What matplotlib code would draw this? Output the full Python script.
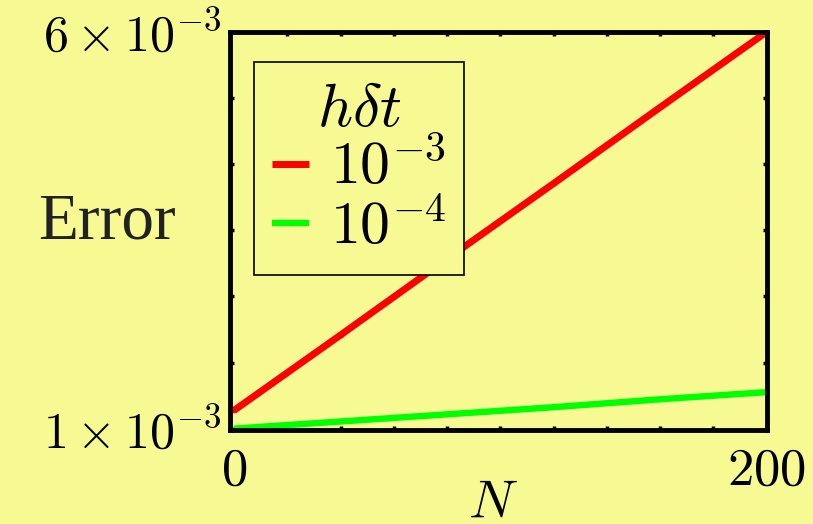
import matplotlib
matplotlib.use("Agg")
import matplotlib.pyplot as plt

# error vs number of steps for two step sizes
N = [0, 40, 80, 120, 160, 200]
err_1e3 = [1.23e-3, 2.18e-3, 3.14e-3, 4.09e-3, 5.05e-3, 6.00e-3]
err_1e4 = [1.00e-3, 1.09e-3, 1.18e-3, 1.27e-3, 1.37e-3, 1.46e-3]
labels = [r"$10^{-3}$", r"$10^{-4}$"]

bg = "#f7fa93"
plt.rcParams["mathtext.fontset"] = "cm"

fig = plt.figure(figsize=(8.13, 5.24), dpi=100, facecolor=bg)
ax = fig.add_axes([0.283, 0.179, 0.66, 0.76], facecolor=bg)

ax.plot(N, err_1e3, color="#ff0000", lw=5, marker="o", ms=3, label=labels[0], solid_capstyle="butt")
ax.plot(N, err_1e4, color="#00ff00", lw=4.6, marker="o", ms=3, label=labels[1], solid_capstyle="butt")

ax.set_xlim(-1.5, 200)
ax.set_ylim(0.98e-3, 6.0e-3)

# only the end values get labels
ax.set_xticks([0, 200])
ax.set_xticklabels([r"$0$", r"$200$"], fontsize=38)
ax.set_yticks([1e-3, 6e-3])
ax.set_yticklabels([r"$1\times10^{-3}$", r"$6\times10^{-3}$"], fontsize=36)
ax.tick_params(which="major", length=0)
ax.tick_params(axis="x", which="major", pad=10)
ax.tick_params(axis="y", which="major", pad=6)
ax.set_xticks(range(20, 200, 20), minor=True)
ax.set_yticks([1e-3 + k * 5e-3 / 6 for k in range(1, 6)], minor=True)
ax.tick_params(which="minor", direction="in", length=3, width=2.5,
               top=True, right=True, bottom=True, left=True)

for s in ax.spines.values():
    s.set_linewidth(3.5)
    s.set_color("black")

ax.text(0.49, -0.22, r"$N$", transform=ax.transAxes, fontsize=39,
        ha="center", va="baseline")
ax.text(-0.23, 0.52, "Error", transform=ax.transAxes, fontsize=47,
        family="Liberation Serif", color="#222222", ha="center", va="center")

leg = ax.legend(title=r"$h\delta t$", loc="upper left", bbox_to_anchor=(0.045, 0.925),
                borderaxespad=0, fontsize=43, title_fontsize=44, handlelength=0.62,
                handletextpad=0.35, labelspacing=0.0, borderpad=0.3,
                fancybox=False, framealpha=1, facecolor=bg, edgecolor="black")
leg.get_frame().set_linewidth(1.2)

fig.savefig("out.png", dpi=100, facecolor=bg)
